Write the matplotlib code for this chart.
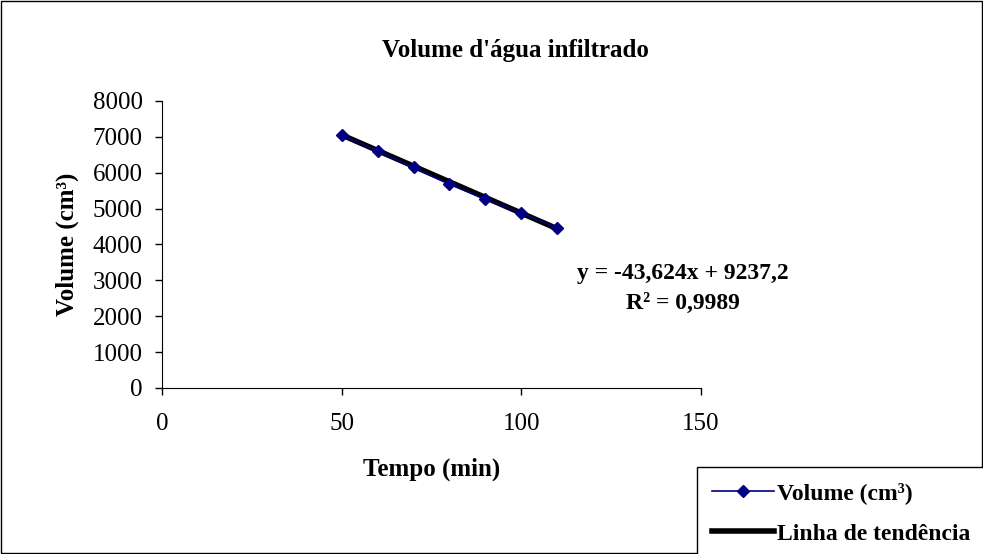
import numpy as np
import matplotlib.pyplot as plt
from matplotlib.patches import Rectangle

# data
tempo = [50, 60, 70, 80, 90, 100, 110]
volume = [7050, 6610, 6150, 5680, 5270, 4880, 4460]
slope = -43.624
intercept = 9237.2

plt.rcParams['font.family'] = ['Liberation Serif', 'DejaVu Serif']

fig = plt.figure(figsize=(9.83, 5.54), dpi=100)
fig.patches.append(Rectangle((0.001, 0.001), 0.998, 0.997, transform=fig.transFigure,
                             fill=False, edgecolor='black', linewidth=1))
ax = fig.add_axes([162/983, 1 - 388/554, (701 - 162)/983, (388 - 101)/554])

t = np.array(tempo)
ax.plot(tempo, volume, color='#000080', marker='D', markersize=6, linewidth=1.2,
        label='Volume (cm³)', zorder=3)
ax.plot(t, slope * t + intercept, color='black', linewidth=4, label='Linha de tendência', zorder=2)

ax.set_xlim(0, 150)
ax.set_ylim(0, 8000)
ax.set_xticks([0, 50, 100, 150])
ax.set_yticks(range(0, 8001, 1000))
ax.tick_params(labelsize=18, direction='out', length=5, width=1)
ax.tick_params(axis='x', pad=13)
ax.tick_params(axis='y', pad=9)
ax.spines['top'].set_visible(False)
ax.spines['right'].set_visible(False)

ax.set_xlabel('Tempo (min)', fontsize=18, fontweight='bold', labelpad=16)
ax.set_ylabel('Volume (cm³)', fontsize=18, fontweight='bold', labelpad=10)
fig.text(515/983, 1 - 50/554, "Volume d'água infiltrado", ha='center', va='center',
         fontsize=18, fontweight='bold')

fig.text(683/983, 1 - 274/554, 'y = -43,624x + 9237,2', ha='center', va='center',
         fontsize=17, fontweight='bold')
fig.text(683/983, 1 - 303/554, 'R² = 0,9989', ha='center', va='center',
         fontsize=17, fontweight='bold')

leg = fig.legend(loc='upper left', bbox_to_anchor=(697/983, 1 - 467/554),
                 prop={'size': 17, 'weight': 'bold'}, frameon=True, fancybox=False,
                 edgecolor='black', handlelength=2.6, handletextpad=0.15,
                 borderaxespad=0, borderpad=0.65, labelspacing=0.8, framealpha=1)
leg.get_frame().set_linewidth(1)

fig.savefig('out.png', dpi=100)
